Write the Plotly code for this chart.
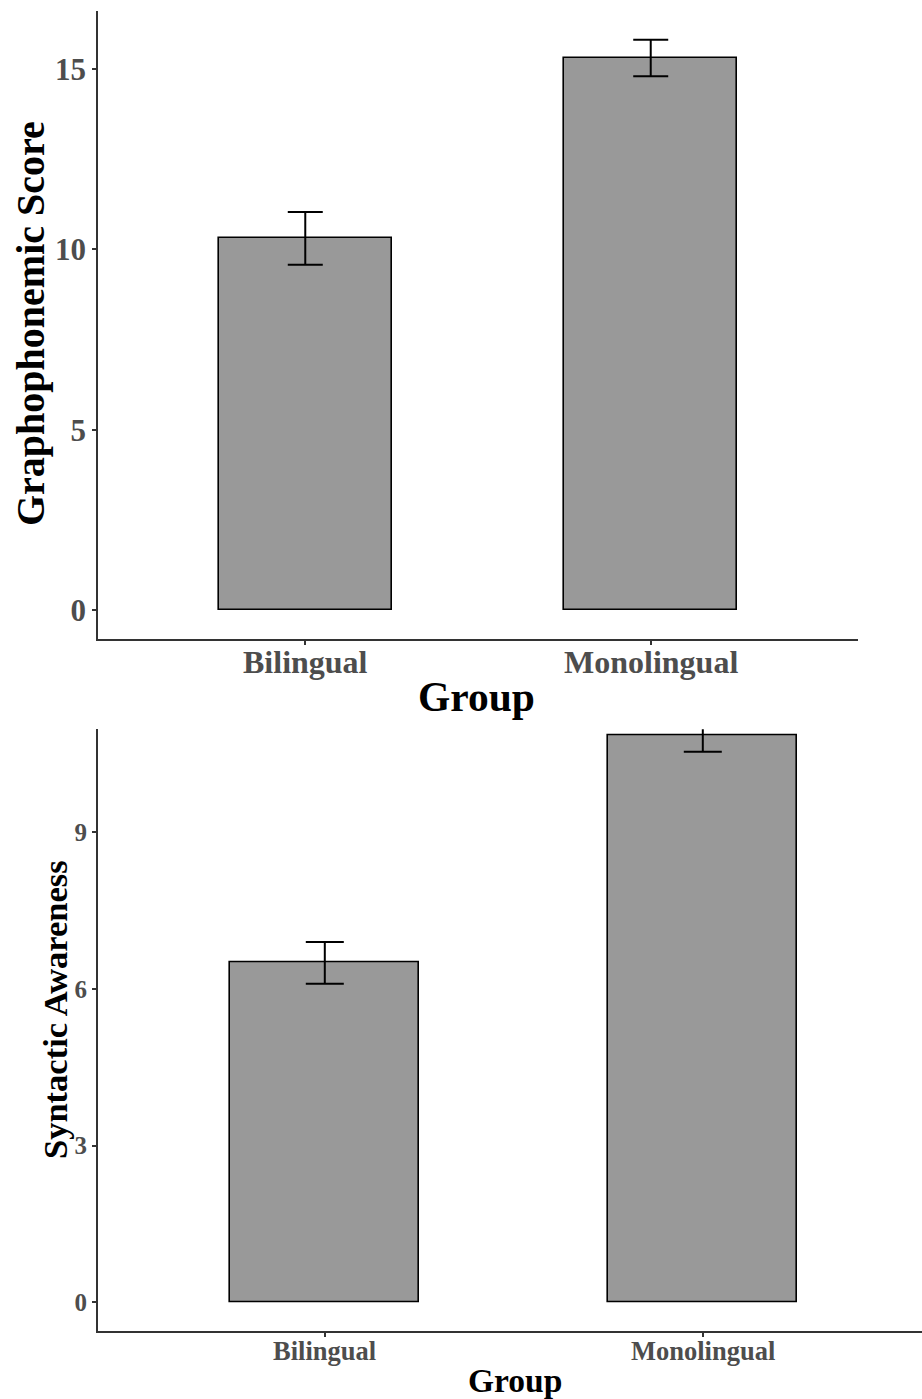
import plotly.graph_objects as go

# Group means and standard errors for the two measures
groups = ["Bilingual", "Monolingual"]
grapho_mean = [10.31, 15.31]
grapho_se = [0.73, 0.505]
syntax_mean = [6.50, 10.86]
syntax_se = [0.40, 0.32]

W, H = 922, 1399
FONT = "Liberation Serif"
TICK_COL = "#4D4D4D"
LINE_COL = "#333333"
BAR_FILL = "#999999"
positions = [1, 2]

fig = go.Figure()

fig.add_trace(go.Bar(
    x=positions, y=grapho_mean, width=0.5,
    marker=dict(color=BAR_FILL, line=dict(color="black", width=1.6)),
    error_y=dict(type="data", array=grapho_se, color="black", thickness=2, width=17.5),
    xaxis="x", yaxis="y", showlegend=False,
))
fig.add_trace(go.Bar(
    x=positions, y=syntax_mean, width=0.5,
    marker=dict(color=BAR_FILL, line=dict(color="black", width=1.6)),
    error_y=dict(type="data", array=syntax_se, color="black", thickness=2, width=19),
    xaxis="x2", yaxis="y2", showlegend=False,
))

def px_x(p):
    return p / W

def px_y(p):
    return 1 - p / H

common_axis = dict(
    showline=True, linecolor=LINE_COL, linewidth=1.8,
    ticks="outside", ticklen=4, tickwidth=1.5, tickcolor=LINE_COL,
    showgrid=False, zeroline=False, mirror=False,
)

# Top panel: plot area x 98..858, y 11..638.7
fig.update_layout(
    xaxis=dict(
        domain=[px_x(98), px_x(858)], range=[0.4, 2.6],
        tickvals=positions, showticklabels=False, anchor="y",
        **common_axis,
    ),
    yaxis=dict(
        domain=[px_y(638.7), px_y(11)], range=[-0.787, 16.61],
        tickvals=[0, 5, 10, 15], anchor="x",
        tickfont=dict(family=FONT, size=31, color=TICK_COL, weight="bold"),
        **common_axis,
    ),
    # Bottom panel: plot area x 98..right edge, y 729.3..1331
    xaxis2=dict(
        domain=[px_x(98), 1.0], range=[0.4, 0.4 + (W - 98) / 378.0],
        tickvals=positions, showticklabels=False, anchor="y2",
        **common_axis,
    ),
    yaxis2=dict(
        domain=[px_y(1331), px_y(729.3)], range=[-0.55, 10.97],
        tickvals=[0, 3, 6, 9], anchor="x2",
        tickfont=dict(family=FONT, size=25, color=TICK_COL, weight="bold"),
        **common_axis,
    ),
    width=W, height=H,
    margin=dict(l=0, r=0, t=0, b=0),
    paper_bgcolor="white", plot_bgcolor="white",
    bargap=0,
)

# Category labels under each x axis
for xref, y_px, size in (("x", 662, 32), ("x2", 1351, 26.5)):
    for pos, name in zip(positions, groups):
        fig.add_annotation(
            text=f"<b>{name}</b>", x=pos, xref=xref, y=px_y(y_px), yref="paper",
            showarrow=False, xanchor="center", yanchor="middle",
            font=dict(family=FONT, size=size, color=TICK_COL),
        )

def title(text, x, y, size, angle=0):
    fig.add_annotation(
        text=f"<b>{text}</b>", x=px_x(x), y=px_y(y), xref="paper", yref="paper",
        showarrow=False, textangle=angle, xanchor="center", yanchor="middle",
        font=dict(family=FONT, size=size, color="black"),
    )

title("Graphophonemic Score", 30, 324, 40, -90)
title("Group", 476.5, 697, 41.5)
title("Syntactic Awareness", 55, 1010, 34.5, -90)
title("Group", 515, 1380, 33.5)

fig.write_html("out.html")
